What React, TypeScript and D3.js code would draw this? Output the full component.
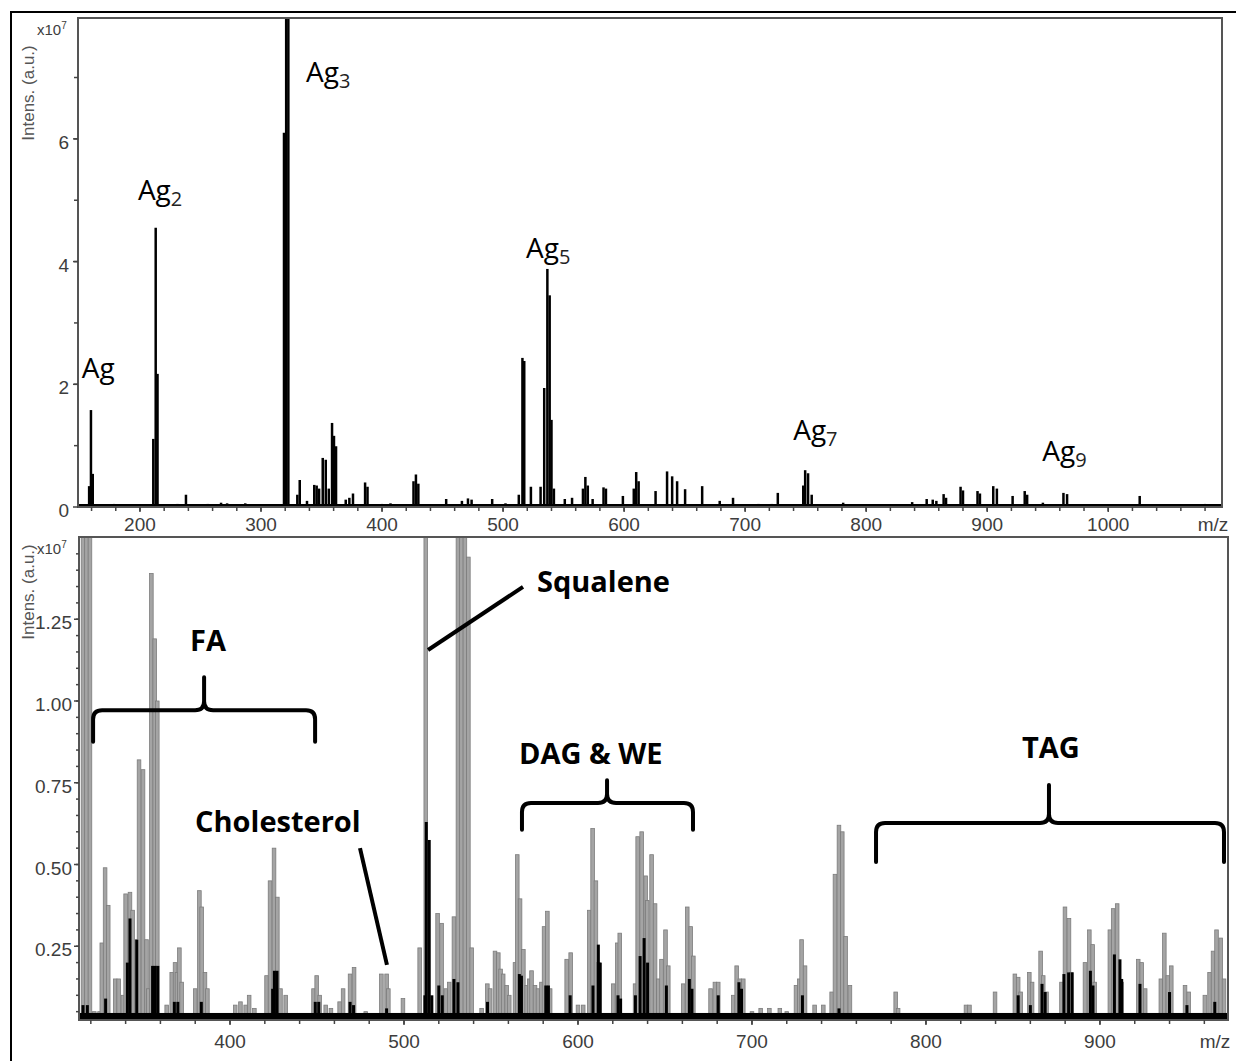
import * as d3 from 'd3';

// ---- data ----
const topXTicks = [200, 300, 400, 500, 600, 700, 800, 900, 1000];
const topYTicks = [0, 2, 4, 6];
const botXTicks = [400, 500, 600, 700, 800, 900];
const botYTicks = [0.25, 0.5, 0.75, 1.0, 1.25];

// top spectrum: [m/z, intensity x10^7]
const topPeaks: [number, number][] = [
  [158, 0.34], [159.5, 1.58], [161, 0.54], [178.5, 0.05],
  [211, 1.11], [213, 4.55], [214.5, 2.17], [231, 0.05], [238, 0.2], [256, 0.05],
  [267, 0.07], [272, 0.06], [287, 0.06], [302, 0.04],
  [319, 6.1], [320.8, 9], [322.6, 9], [330, 0.2], [332, 0.44], [338, 0.1],
  [344, 0.36], [346, 0.35], [348, 0.3], [351, 0.8], [353.5, 0.77], [356, 0.3],
  [358.7, 1.37], [360.3, 1.16], [362, 0.99], [370, 0.12], [373, 0.15], [376, 0.22],
  [386, 0.4], [388, 0.33], [400, 0.05], [407, 0.06], [426, 0.42], [428, 0.53],
  [430, 0.38], [453, 0.13], [466, 0.1], [471, 0.14], [474, 0.12], [491, 0.13],
  [502, 0.06], [513, 0.2], [516, 2.43], [517.5, 2.38], [523, 0.33], [531, 0.33],
  [534, 1.94], [536.6, 3.88], [538.5, 3.45], [540, 1.42], [542, 0.3], [551, 0.13],
  [557, 0.15], [566, 0.3], [568, 0.49], [570, 0.35], [574, 0.13], [583, 0.32],
  [585, 0.3], [599, 0.18], [608, 0.3], [610, 0.57], [612, 0.42], [626, 0.26],
  [635.5, 0.58], [639.7, 0.5], [643.8, 0.42], [650.4, 0.29], [664.5, 0.34],
  [679, 0.1], [690, 0.15], [711, 0.05], [722, 0.05], [727, 0.23], [748, 0.35],
  [749.6, 0.6], [752, 0.55], [755, 0.2], [781, 0.07], [822, 0.04], [838, 0.08],
  [850, 0.13], [855, 0.12], [858, 0.1], [864, 0.21], [866, 0.15], [878, 0.33],
  [880, 0.27], [892, 0.26], [894, 0.22], [905, 0.34], [908, 0.3], [921, 0.18],
  [931, 0.26], [933, 0.2], [946, 0.07], [963, 0.23], [966, 0.21], [1026, 0.18],
  [1040, 0.04], [1060, 0.04], [1080, 0.05],
];

// bottom spectrum, grey trace
const botGrayPeaks: [number, number][] = [
  [315.5, 2], [317.5, 2], [319.5, 2], [322, 0.05], [325, 0.05],
  [326.3, 0.26], [328.2, 0.49], [330, 0.375], [334, 0.15], [336, 0.15], [338.5, 0.1],
  [340, 0.41], [342.5, 0.415], [344, 0.36], [346.4, 0.27], [347.7, 0.82], [350, 0.79],
  [352, 0.27], [353, 0.12], [354.8, 1.39], [356.7, 1.19], [358.2, 1.0], [363.6, 0.07],
  [366.5, 0.17], [368.4, 0.2], [369.5, 0.17], [370.9, 0.245], [372.2, 0.14],
  [380, 0.12], [382.4, 0.42], [383.7, 0.37], [385.6, 0.17], [387, 0.12],
  [403, 0.07], [406, 0.08], [409, 0.07], [411, 0.1], [414, 0.06],
  [421, 0.16], [423, 0.45], [425.3, 0.55], [427.2, 0.4], [429, 0.12], [432, 0.1],
  [448, 0.12], [449.8, 0.16], [451.5, 0.1], [455, 0.07], [458, 0.06], [463, 0.08],
  [465, 0.12], [469, 0.165], [471.3, 0.185], [478, 0.05], [487, 0.165], [490, 0.165],
  [491, 0.12], [499.4, 0.09], [509, 0.245], [512.5, 2], [519.3, 0.35], [521.6, 0.32],
  [524, 0.12], [526, 0.14], [528.7, 0.34], [531, 2], [533, 2], [535, 2], [537, 1.44],
  [538.9, 0.245], [544.6, 0.06], [547.9, 0.135], [549.5, 0.12], [552.3, 0.235],
  [554.2, 0.23], [555.5, 0.18], [557, 0.165], [559, 0.13], [560.5, 0.1], [563.8, 0.2],
  [565.1, 0.53], [566.7, 0.395], [568.6, 0.24], [570.5, 0.13], [572, 0.15],
  [573.3, 0.175], [575.3, 0.13], [577, 0.12], [579, 0.14], [580.5, 0.31],
  [582.4, 0.357], [584, 0.12], [593.5, 0.21], [595.8, 0.23], [600, 0.07], [603, 0.07],
  [606.5, 0.36], [608.4, 0.61], [610.3, 0.45], [611.7, 0.2], [620.3, 0.135],
  [622.6, 0.26], [624, 0.29], [632.8, 0.135], [634.3, 0.585], [636.6, 0.6],
  [638.9, 0.465], [639.8, 0.39], [642.3, 0.53], [644.3, 0.38], [646.2, 0.15],
  [648, 0.21], [650.3, 0.3], [651.9, 0.19], [660.5, 0.135], [662.8, 0.37],
  [664.8, 0.31], [666.3, 0.22], [676.2, 0.12], [678.7, 0.14], [680.6, 0.14],
  [689.3, 0.1], [691.2, 0.19], [693, 0.15], [695, 0.15], [700, 0.05], [705, 0.06],
  [710, 0.06], [716, 0.06], [720, 0.05], [725.3, 0.13], [727.2, 0.15], [728.5, 0.27],
  [730.5, 0.19], [736, 0.07], [741, 0.07], [745.8, 0.11], [747.7, 0.47], [750, 0.62],
  [751.9, 0.6], [753.8, 0.28], [756.3, 0.13], [782.6, 0.11], [784, 0.06], [823, 0.07],
  [825, 0.07], [839.7, 0.11], [851.1, 0.165], [853, 0.155], [854.4, 0.11],
  [859.4, 0.17], [861, 0.14], [865.9, 0.235], [867.4, 0.16], [869.3, 0.11],
  [877.9, 0.14], [879.9, 0.37], [882.2, 0.335], [883.5, 0.17], [891.4, 0.2],
  [893.9, 0.3], [895.8, 0.255], [897, 0.14], [905.7, 0.3], [907.6, 0.365],
  [909.9, 0.38], [912.5, 0.14], [922, 0.21], [924, 0.2], [926, 0.12], [935, 0.15],
  [937, 0.29], [939, 0.16], [941, 0.19], [948.9, 0.13], [951, 0.11], [960.3, 0.1],
  [963, 0.17], [965, 0.235], [967, 0.3], [969.4, 0.275], [971.3, 0.15],
];

// bottom spectrum, black trace
const botBlackPeaks: [number, number][] = [
  [315.5, 0.07], [318, 0.07], [328.5, 0.09], [341, 0.2], [342.5, 0.335], [346.4, 0.27],
  [355.5, 0.19], [357, 0.19], [358.5, 0.19], [368, 0.08], [370, 0.08], [383.5, 0.08],
  [424.5, 0.12], [425.5, 0.175], [427, 0.175], [449, 0.08], [451, 0.08], [469, 0.08],
  [471, 0.07], [490, 0.06], [512, 0.1], [512.8, 0.63], [514.5, 0.575], [516, 0.1],
  [520, 0.13], [522, 0.1], [528.7, 0.15], [531, 0.14], [548, 0.08], [566.3, 0.165],
  [567.5, 0.16], [581.5, 0.13], [583, 0.13], [595.5, 0.1], [608.6, 0.13],
  [611.7, 0.255], [612.8, 0.2], [623, 0.1], [624.5, 0.09], [633, 0.1], [635.7, 0.22],
  [638, 0.275], [640, 0.2], [650.8, 0.13], [664, 0.15], [665.5, 0.12], [680.6, 0.1],
  [692.5, 0.14], [694, 0.12], [729, 0.1], [750, 0.06], [853, 0.1], [860, 0.07],
  [866.7, 0.135], [868.5, 0.11], [879.3, 0.165], [882, 0.17], [884, 0.17],
  [894.5, 0.175], [896, 0.13], [908.3, 0.225], [911.5, 0.21], [912.5, 0.15],
  [923, 0.135], [940, 0.11], [950, 0.07], [966, 0.08],
];

const topLabels = [
  { name: 'Ag', sub: '', mz: 152, v: 2.1 },
  { name: 'Ag', sub: '2', mz: 198.3, v: 5.0 },
  { name: 'Ag', sub: '3', mz: 337.2, v: 6.93 },
  { name: 'Ag', sub: '5', mz: 519, v: 4.06 },
  { name: 'Ag', sub: '7', mz: 739.7, v: 1.09 },
  { name: 'Ag', sub: '9', mz: 945.5, v: 0.75 },
];

const botLabels = [
  { name: 'FA', mz: 377, v: 1.153 },
  { name: 'Squalene', mz: 576.4, v: 1.333 },
  { name: 'Cholesterol', mz: 379.9, v: 0.599 },
  { name: 'DAG & WE', mz: 566.1, v: 0.807 },
  { name: 'TAG', mz: 855.2, v: 0.826 },
];

const braces = [
  { from: 321.3, to: 448.9, mid: 385.1, bar: 0.972, end: 0.875, tip: 1.073 },
  { from: 567.8, to: 666.1, mid: 616.7, bar: 0.688, end: 0.606, tip: 0.758 },
  { from: 771.3, to: 971.3, mid: 870.7, bar: 0.627, end: 0.508, tip: 0.743 },
];

const pointers = [
  { mz1: 513.8, v1: 1.156, mz2: 568.4, v2: 1.349 },
  { mz1: 474.7, v1: 0.55, mz2: 490.2, v2: 0.193 },
];

const tickFont = '"Liberation Sans", Arial, sans-serif';
const noteFont = '"Open Sans", "Noto Sans", sans-serif';

export default function App() {
  const xTop = d3.scaleLinear().domain([148.8, 1094]).range([78, 1222]);
  const yTop = d3.scaleLinear().domain([0, 7.97]).range([507, 18]);
  const xBot = d3.scaleLinear().domain([313.2, 973.6]).range([79, 1228]);
  const yBot = d3.scaleLinear().domain([0.0245, 1.5015]).range([1020, 537]);

  const [tL, tR] = xTop.range();
  const [tB, tT] = yTop.range();
  const [bL, bR] = xBot.range();
  const [bB, bT] = yBot.range();

  const topMinorX = d3.range(160, 1090, 20);
  const topMinorY = d3.range(1, 8, 1);
  const botMinorX = d3.range(320, 975, 20);
  const botMinorY = d3.range(0.05, 1.5, 0.05);

  const bracePath = (b: typeof braces[number]) => {
    const x1 = xBot(b.from), x2 = xBot(b.to), xm = xBot(b.mid);
    const yb = yBot(b.bar), ye = yBot(b.end), yt = yBot(b.tip);
    const r = 9;
    return `M${x1},${ye} L${x1},${yb + r} Q${x1},${yb} ${x1 + r},${yb} L${xm - r},${yb} Q${xm},${yb} ${xm},${yb - r} L${xm},${yt}` +
      ` M${xm},${yb - r} Q${xm},${yb} ${xm + r},${yb} L${x2 - r},${yb} Q${x2},${yb} ${x2},${yb + r} L${x2},${ye}`;
  };

  return (
    <svg width={1241} height={1061} style={{ position: 'absolute', left: 0, top: 0, background: '#fff' }}>
      <defs>
        <clipPath id="clipTop"><rect x={tL} y={tT} width={tR - tL} height={tB - tT} /></clipPath>
        <clipPath id="clipBot"><rect x={bL} y={bT} width={bR - bL} height={bB - bT} /></clipPath>
      </defs>

      {/* outer frame */}
      <line x1={11} y1={12} x2={11} y2={1061} stroke="#000" strokeWidth={2} />
      <line x1={10} y1={12} x2={1236} y2={12} stroke="#000" strokeWidth={2} />

      {/* ---------- top panel ---------- */}
      <g clipPath="url(#clipTop)">
        <line x1={tL} x2={tR} y1={yTop(0.03)} y2={yTop(0.03)} stroke="#000" strokeWidth={2.4} />
        {topPeaks.map(([mz, v], i) => (
          <line key={i} x1={xTop(mz)} x2={xTop(mz)} y1={yTop(0)} y2={yTop(v)} stroke="#000" strokeWidth={2.5} />
        ))}
      </g>
      <rect x={tL} y={tT} width={tR - tL} height={tB - tT} fill="none" stroke="#555" strokeWidth={2} />
      {topXTicks.map(t => (
        <g key={t}>
          <line x1={xTop(t)} x2={xTop(t)} y1={tB} y2={tB + 5} stroke="#444" strokeWidth={1.5} />
          <text x={xTop(t)} y={tB + 24} textAnchor="middle" fontFamily={tickFont} fontSize={19} fill="#3d3d3d">{t}</text>
        </g>
      ))}
      {topMinorX.map(t => (
        <line key={t} x1={xTop(t)} x2={xTop(t)} y1={tB} y2={tB + 4} stroke="#444" strokeWidth={1.5} />
      ))}
      <text x={tR - 9} y={tB + 24} textAnchor="middle" fontFamily={tickFont} fontSize={19} fill="#3d3d3d">m/z</text>
      {topMinorY.map(t => (
        <line key={t} x1={tL - 4} x2={tL} y1={yTop(t)} y2={yTop(t)} stroke="#444" strokeWidth={1.5} />
      ))}
      {topYTicks.map(t => (
        <g key={t}>
          <line x1={tL - 5} x2={tL} y1={yTop(t)} y2={yTop(t)} stroke="#444" strokeWidth={1.5} />
          <text x={69} y={yTop(t) + 10} textAnchor="end" fontFamily={tickFont} fontSize={19} fill="#3d3d3d">{t}</text>
        </g>
      ))}
      <text x={37} y={35} fontFamily={tickFont} fontSize={15} fill="#3d3d3d">x10<tspan fontSize={10} dy={-6}>7</tspan></text>
      <text transform="translate(34,93) rotate(-90)" textAnchor="middle" fontFamily={tickFont} fontSize={17} fill="#555">Intens. (a.u.)</text>

      {topLabels.map((l, i) => (
        <text key={i} x={xTop(l.mz)} y={yTop(l.v)} fontFamily={noteFont} fontSize={28} fill="#000">
          {l.name}
          {l.sub && <tspan fontSize={20} dy={6} fill="#222">{l.sub}</tspan>}
        </text>
      ))}

      {/* ---------- bottom panel ---------- */}
      <g clipPath="url(#clipBot)">
        {botGrayPeaks.map(([mz, v], i) => (
          <rect key={i} x={xBot(mz) - 1.8} width={3.6} y={yBot(v)} height={Math.max(0, bB - yBot(v))}
            fill="#a4a4a4" stroke="#7c7c7c" strokeWidth={0.8} />
        ))}
        {botBlackPeaks.map(([mz, v], i) => (
          <rect key={i} x={xBot(mz) - 1.5} width={3} y={yBot(v)} height={Math.max(0, bB - yBot(v))} fill="#000" />
        ))}
        <rect x={bL} width={bR - bL} y={yBot(0.046)} height={bB - yBot(0.046)} fill="#000" />
      </g>
      <rect x={bL} y={bT} width={bR - bL} height={bB - bT} fill="none" stroke="#555" strokeWidth={2} />
      {botXTicks.map(t => (
        <g key={t}>
          <line x1={xBot(t)} x2={xBot(t)} y1={bB} y2={bB + 5} stroke="#444" strokeWidth={1.5} />
          <text x={xBot(t)} y={bB + 28} textAnchor="middle" fontFamily={tickFont} fontSize={19} fill="#3d3d3d">{t}</text>
        </g>
      ))}
      {botMinorX.map(t => (
        <line key={t} x1={xBot(t)} x2={xBot(t)} y1={bB} y2={bB + 4} stroke="#444" strokeWidth={1.5} />
      ))}
      <text x={bR - 13} y={bB + 28} textAnchor="middle" fontFamily={tickFont} fontSize={19} fill="#3d3d3d">m/z</text>
      {botMinorY.map((t, i) => (
        <line key={i} x1={bL - 3} x2={bL} y1={yBot(t)} y2={yBot(t)} stroke="#444" strokeWidth={1.5} />
      ))}
      {botYTicks.map(t => (
        <g key={t}>
          <line x1={bL - 5} x2={bL} y1={yBot(t)} y2={yBot(t)} stroke="#444" strokeWidth={1.5} />
          <text x={72} y={yBot(t) + 10} textAnchor="end" fontFamily={tickFont} fontSize={19} fill="#3d3d3d">{t.toFixed(2)}</text>
        </g>
      ))}
      <text x={37} y={554} fontFamily={tickFont} fontSize={15} fill="#3d3d3d">x10<tspan fontSize={10} dy={-6}>7</tspan></text>
      <text transform="translate(34,592) rotate(-90)" textAnchor="middle" fontFamily={tickFont} fontSize={17} fill="#555">Intens. (a.u.)</text>

      {braces.map((b, i) => (
        <path key={i} d={bracePath(b)} fill="none" stroke="#000" strokeWidth={4} strokeLinecap="round" strokeLinejoin="round" />
      ))}
      {pointers.map((p, i) => (
        <line key={i} x1={xBot(p.mz1)} y1={yBot(p.v1)} x2={xBot(p.mz2)} y2={yBot(p.v2)} stroke="#000" strokeWidth={4} />
      ))}
      {botLabels.map((l, i) => (
        <text key={i} x={xBot(l.mz)} y={yBot(l.v)} fontFamily={noteFont} fontWeight="bold" fontSize={29} fill="#000">{l.name}</text>
      ))}
    </svg>
  );
}
